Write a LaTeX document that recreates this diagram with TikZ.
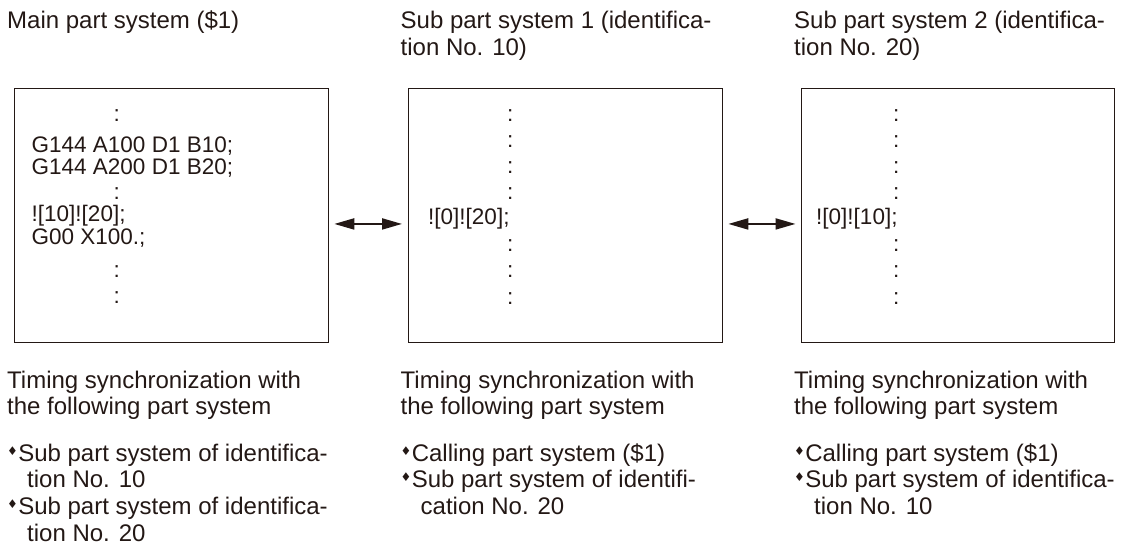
\documentclass[tikz,border=0pt]{standalone}
\usepackage{fontspec}
\setmainfont{Liberation Sans}
\newfontfamily\symfont{DejaVu Sans}
\usetikzlibrary{arrows.meta,calc}
\definecolor{ink}{RGB}{35,24,21}
\newcommand{\dmd}{\raisebox{6pt}{\symfont\fontsize{12}{12}\selectfont ♦}\hspace{0.3pt}}
\tikzset{
  txt/.style={anchor=base west, inner sep=0pt, font=\fontsize{24}{27}\selectfont, text=ink},
  code/.style={anchor=base west, inner sep=0pt, font=\fontsize{22.5}{26}\selectfont, text=ink},
  cbox/.style={draw=ink, line width=1.3pt, anchor=north west, inner sep=0pt, minimum height=254pt},
  arr/.style={draw=ink, line width=2pt, {Triangle[length=20pt,width=11pt]}-{Triangle[length=20pt,width=11pt]}}
}
\begin{document}
\begin{tikzpicture}[x=1pt,y=-1pt]
\useasboundingbox (0,0) rectangle (1125,559);
% titles
\node[txt] (t1) at (7,29) {Main part system (\$1)};
\node[txt] (t2a) at (400.5,29) {Sub part system 1 (identifica-};
\node[txt] (t2b) at (400.5,56) {tion No. 10)};
\node[txt] (t3a) at (794,29) {Sub part system 2 (identifica-};
\node[txt] (t3b) at (794,56) {tion No. 20)};
% boxes
\node[cbox, minimum width=314pt] (b1) at (14,88) {};
\node[cbox, minimum width=314pt] (b2) at (407.5,88) {};
\node[cbox, minimum width=312.5pt] (b3) at (801,88) {};
% box 1 code
\node[code] (c1a) at (113.5,122) {:};
\node[code] (c1b) at (31.5,153) {G144 A100 D1 B10;};
\node[code] (c1c) at (31.5,175) {G144 A200 D1 B20;};
\node[code] (c1d) at (113.5,200) {:};
\node[code] (c1e) at (31.5,222) {![10]![20];};
\node[code] (c1f) at (31.5,244) {G00 X100.;};
\node[code] (c1g) at (113.5,277) {:};
\node[code] (c1h) at (113.5,303) {:};
% box 2 code
\node[code] (c2a) at (507,121.7) {:};
\node[code] (c2b) at (507,147.7) {:};
\node[code] (c2c) at (507,173.7) {:};
\node[code] (c2d) at (507,200) {:};
\node[code] (c2e) at (428,224.5) {![0]![20];};
\node[code] (c2f) at (507,251) {:};
\node[code] (c2g) at (507,277.7) {:};
\node[code] (c2h) at (507,304.3) {:};
% box 3 code
\node[code] (c3a) at (893,121.7) {:};
\node[code] (c3b) at (893,147.7) {:};
\node[code] (c3c) at (893,173.7) {:};
\node[code] (c3d) at (893,200) {:};
\node[code] (c3e) at (816,224.5) {![0]![10];};
\node[code] (c3f) at (893,251) {:};
\node[code] (c3g) at (893,277.7) {:};
\node[code] (c3h) at (893,304.3) {:};
% arrows
\draw[arr] ($(b1.east)+(5,8.3)$) -- ($(b2.west)+(-5.5,8.3)$);
\draw[arr] ($(b2.east)+(5.5,8.3)$) -- ($(b3.west)+(-5.5,8.3)$);
% bottom column 1
\node[txt] (d1a) at (7,388) {Timing synchronization with};
\node[txt] (d1b) at (7,414) {the following part system};
\node[txt] (d1c) at (7,461) {\dmd Sub part system of identifica-};
\node[txt] (d1d) at (27,487.5) {tion No. 10};
\node[txt] (d1e) at (7,514.5) {\dmd Sub part system of identifica-};
\node[txt] (d1f) at (27,541.5) {tion No. 20};
% bottom column 2
\node[txt] (d2a) at (400.5,388) {Timing synchronization with};
\node[txt] (d2b) at (400.5,414) {the following part system};
\node[txt] (d2c) at (400.5,461) {\dmd Calling part system (\$1)};
\node[txt] (d2d) at (400.5,487.5) {\dmd Sub part system of identifi-};
\node[txt] (d2e) at (420.5,514.5) {cation No. 20};
% bottom column 3
\node[txt] (d3a) at (794,388) {Timing synchronization with};
\node[txt] (d3b) at (794,414) {the following part system};
\node[txt] (d3c) at (794,461) {\dmd Calling part system (\$1)};
\node[txt] (d3d) at (794,487.5) {\dmd Sub part system of identifica-};
\node[txt] (d3e) at (814,514.5) {tion No. 10};
\end{tikzpicture}
\end{document}
